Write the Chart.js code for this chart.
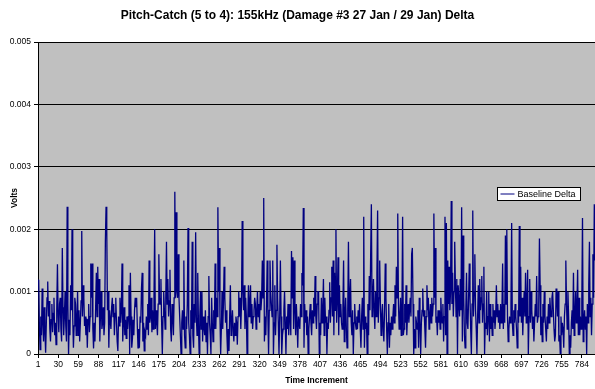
<!DOCTYPE html>
<html>
<head>
<meta charset="utf-8">
<title>Pitch-Catch Delta</title>
<script src="https://cdn.jsdelivr.net/npm/chart.js@4/dist/chart.umd.min.js"></script>
<style>
  body { margin: 0; background: #fff; }
</style>
</head>
<body>
<canvas id="chart" width="595" height="389"></canvas>
<script>
var chartTitle = 'Pitch-Catch (5 to 4): 155kHz (Damage #3 27 Jan / 29 Jan) Delta';
var seriesName = 'Baseline Delta';

// labelled time increments on the x axis
var xTickLabels = [1, 30, 59, 88, 117, 146, 175, 204, 233, 262, 291, 320, 349, 378,
                   407, 436, 465, 494, 523, 552, 581, 610, 639, 668, 697, 726, 755, 784];

// y axis ticks (volts)
var yTickValues = [0, 0.001, 0.002, 0.003, 0.004, 0.005];

// baseline delta, in millivolts (one value per time increment)
var baselineDeltaMv = [
  1.19,1.18,0.45,0.07,0.6,0.3,1.05,0.5,0.2,0.75,0.35,0.02,0.5,0.9,1.16,0.6,0.85,0.4,0.2,0.55,0.8,0.35,0.65,0.9,0.3,0.5,0.15,0.7,1.44,0.6,0.35,0.8,0.9,0.4,0.2,1.7,0.75,0.3,0.6,1.0,0.45,0.2,2.36,0.8,0.0,0.55,0.3,1.1,0.7,2.0,0.6,0.1,0.45,0.9,0.8,0.3,0.55,1.0,0.3,0.7,0.2,0.5,0.85,1.97,0.6,
  1.1,0.9,0.45,0.6,0.3,0.57,0.1,0.55,0.8,0.35,0.6,1.45,0.9,1.45,0.4,0.09,0.5,0.2,0.75,1.3,0.6,1.4,0.8,1.2,0.2,0.65,1.0,0.4,0.5,0.75,0.3,0.5,1.8,2.36,2.0,0.7,1.0,0.1,0.7,0.55,0.4,0.75,0.9,0.6,0.8,0.3,0.65,0.9,0.5,0.2,0.05,0.6,0.45,0.9,0.5,0.7,1.45,0.2,0.5,0.75,0.3,0.55,0.25,0.6,0.4,0.6,1.1,0.0,
  1.3,0.6,0.1,0.25,0.55,0.3,0.7,0.9,0.75,0.9,0.45,0.1,0.4,0.1,0.6,0.5,1.05,1.3,0.2,0.5,0.05,0.35,0.3,0.6,0.4,0.8,0.3,1.5,0.5,0.6,0.9,0.35,0.7,0.4,0.9,2.0,0.4,0.7,0.5,0.3,0.8,1.6,0.9,0.8,1.2,0.5,0.0,0.6,1.0,0.7,0.4,0.9,1.8,0.8,1.2,0.6,0.85,1.35,0.4,0.2,0.8,0.6,0.3,0.9,2.6,0.9,2.27,1.0,
  0.9,1.6,0.9,0.6,0.3,0.0,0.5,0.7,0.4,1.5,0.3,0.1,0.6,0.4,0.8,2.02,0.5,0.3,0.0,0.7,0.4,1.8,0.3,0.1,0.8,0.5,1.95,0.6,0.3,1.3,0.5,0.0,0.6,1.0,0.4,1.0,0.2,0.6,0.45,0.3,0.7,0.2,0.5,0.0,0.6,1.25,0.5,0.3,0.0,0.9,0.5,0.2,0.7,0.4,1.45,0.4,0.9,0.6,2.35,1.0,1.7,0.6,0.0,0.4,1.0,0.4,0.8,
  1.4,0.9,0.5,0.7,0.3,0.0,0.4,0.05,0.6,1.1,0.3,0.5,0.7,0.4,0.2,0.5,0.3,0.6,0.5,0.15,0.6,1.0,0.6,0.9,0.4,0.8,2.13,1.0,0.7,1.1,0.4,0.9,0.6,0.0,0.5,1.1,0.6,0.8,1.1,0.5,0.8,0.4,0.6,0.7,0.9,0.8,0.4,0.7,1.0,0.6,0.8,0.5,1.0,0.7,0.9,1.5,0.9,2.5,0.2,0.6,0.3,0.8,1.5,0.6,0.0,0.7,1.5,1.0,
  0.8,0.6,1.5,0.0,0.5,1.1,0.3,0.7,1.75,0.9,0.5,0.0,0.6,1.5,0.6,0.0,0.3,0.4,0.7,1.0,0.5,0.0,0.6,0.4,0.8,0.3,0.6,0.8,0.3,1.65,0.9,1.55,0.4,1.5,0.7,0.3,0.8,0.5,0.1,0.6,0.5,0.4,0.8,0.6,1.3,1.1,2.34,0.1,0.8,0.5,0.7,0.3,0.6,0.0,0.4,0.6,0.8,0.5,0.3,0.7,0.5,0.9,0.6,1.25,0.6,0.4,0.8,1.0,
  1.0,0.0,0.5,0.3,0.9,0.5,0.7,1.2,0.3,0.9,0.5,0.6,0.0,0.5,0.4,0.7,1.15,0.5,0.9,1.4,0.6,1.5,0.3,1.3,0.7,2.0,0.5,0.9,1.55,0.3,1.1,0.6,0.8,0.5,0.4,0.7,1.5,0.2,0.6,0.9,0.4,0.1,0.7,1.8,0.6,0.9,1.2,0.5,0.3,0.7,0.0,0.5,0.8,0.5,0.4,0.6,0.4,0.7,0.5,0.8,0.4,0.1,0.6,0.9,0.4,2.2,0.1,
  0.6,0.4,0.5,0.0,0.8,0.3,1.25,0.7,1.6,2.4,0.6,0.9,1.2,0.7,0.4,1.0,0.6,1.3,2.3,0.5,0.9,1.5,0.8,0.3,0.6,0.8,0.4,0.2,0.7,1.45,0.9,0.4,0.0,0.5,0.8,0.1,0.5,0.3,0.6,0.4,0.6,0.8,0.5,1.1,0.6,1.4,0.9,2.25,0.8,0.4,0.6,0.9,0.3,0.7,2.2,0.3,0.4,0.8,0.5,1.1,0.3,0.6,0.8,0.5,0.7,0.9,0.6,1.6,
  1.7,0.8,0.0,0.4,0.1,0.6,0.5,0.4,0.7,0.1,0.9,0.5,0.0,0.5,0.7,1.05,0.6,0.7,0.4,0.1,0.6,1.1,0.7,0.9,0.4,0.6,0.8,0.5,0.9,0.6,0.8,2.25,0.9,1.7,0.5,0.6,0.3,0.7,0.5,0.7,0.4,0.9,0.6,0.5,0.8,0.2,0.6,2.2,0.3,2.1,0.0,1.5,0.8,1.4,0.7,1.0,2.45,0.8,1.3,0.6,1.0,1.8,1.1,0.6,1.2,0.0,1.1,
  1.1,0.6,1.2,0.7,2.35,0.2,1.9,0.9,0.3,0.1,0.7,1.3,0.5,0.4,0.9,1.45,0.9,0.4,0.0,0.8,2.3,0.6,1.0,1.6,0.7,0.4,0.0,0.6,1.1,0.5,1.2,0.7,0.9,1.25,0.5,0.8,1.4,0.0,0.5,0.4,1.0,0.3,0.6,1.0,0.2,0.8,0.4,0.6,0.3,0.8,0.5,0.7,0.4,0.6,1.1,0.6,0.8,0.5,0.7,0.4,0.8,0.5,0.7,1.45,0.4,0.8,0.5,1.9,
  0.8,2.0,0.6,0.2,0.4,0.6,0.5,0.8,2.1,0.5,0.3,0.7,0.5,0.8,0.6,0.4,0.1,0.7,0.5,2.05,0.6,1.4,0.5,0.9,0.3,0.7,1.0,0.6,1.3,0.5,0.8,1.35,0.0,0.6,1.2,0.5,1.0,0.7,0.4,0.6,0.2,0.5,0.8,0.6,1.25,0.5,0.6,0.8,1.85,1.1,0.3,0.6,0.2,0.8,0.5,1.0,0.6,0.4,0.2,0.6,0.4,0.8,0.5,0.9,0.7,0.6,0.9,1.0,
  0.7,0.4,0.2,0.3,1.05,0.9,0.6,1.0,0.2,0.3,0.0,0.6,0.3,0.5,0.4,0.1,0.6,0.8,1.5,0.8,0.4,1.0,0.6,0.0,0.3,0.1,0.5,0.7,0.4,1.3,0.3,0.6,1.0,0.5,0.8,1.35,0.3,0.9,0.3,0.6,0.4,0.8,2.18,0.2,0.5,0.7,0.4,0.6,0.0,0.8,0.5,1.1,1.8,0.6,0.9,0.3,0.8,1.6,0.9,2.4,1.5
];

Chart.defaults.font.family = '"Liberation Sans", Arial, sans-serif';
Chart.defaults.color = '#000';

// points: x = time increment, y = volts
var points = baselineDeltaMv.map(function (mv, i) {
    return { x: i + 1, y: mv / 1000 };
});

// grey plot area like the Excel default
var plotBackground = {
    id: 'plotBackground',
    beforeDraw: function (chart) {
        var a = chart.chartArea;
        var ctx = chart.ctx;
        ctx.save();
        ctx.fillStyle = '#c0c0c0';
        ctx.fillRect(a.left, a.top, a.right - a.left, a.bottom - a.top);
        ctx.restore();
    }
};

// Excel style legend box sitting inside the plot, right side
var boxLegend = {
    id: 'boxLegend',
    afterDraw: function (chart) {
        var ctx = chart.ctx;
        var ds = chart.data.datasets[0];
        var x = 497.5, y = 187.5, w = 83, h = 13;
        ctx.save();
        ctx.fillStyle = '#fff';
        ctx.fillRect(x, y, w, h);
        ctx.strokeStyle = '#000';
        ctx.lineWidth = 1;
        ctx.strokeRect(x, y, w, h);
        ctx.strokeStyle = ds.borderColor;
        ctx.beginPath();
        ctx.moveTo(x + 3, y + 6.5);
        ctx.lineTo(x + 17, y + 6.5);
        ctx.stroke();
        ctx.fillStyle = '#000';
        ctx.font = '9px "Liberation Sans", Arial, sans-serif';
        ctx.textBaseline = 'middle';
        ctx.fillText(ds.label, x + 20, y + 7);
        ctx.restore();
    }
};

new Chart(document.getElementById('chart'), {
    type: 'line',
    data: {
        datasets: [{
            label: seriesName,
            data: points,
            borderColor: '#000080',
            borderWidth: 1.3,
            pointRadius: 0,
            tension: 0,
            fill: false
        }]
    },
    options: {
        responsive: false,
        animation: false,
        layout: { padding: 0 },
        plugins: {
            legend: { display: false },
            tooltip: { enabled: false },
            title: {
                display: true,
                text: chartTitle,
                color: '#000',
                font: { size: 12, weight: 'bold' },
                padding: { top: 8, bottom: 19.6 }
            }
        },
        scales: {
            x: {
                type: 'linear',
                min: 1,
                max: baselineDeltaMv.length,
                afterBuildTicks: function (scale) {
                    scale.ticks = xTickLabels.map(function (v) { return { value: v }; });
                },
                afterFit: function (scale) { scale.height = 35; },
                grid: { drawOnChartArea: false, color: '#000', tickLength: 4 },
                border: { color: '#000' },
                ticks: {
                    autoSkip: false,
                    maxRotation: 0,
                    padding: 2,
                    font: { size: 8.5 },
                    callback: function (v) { return String(v); }
                },
                title: {
                    display: true,
                    text: 'Time Increment',
                    font: { size: 8.5, weight: 'bold' },
                    padding: 3
                }
            },
            y: {
                min: 0,
                max: 0.005,
                afterBuildTicks: function (scale) {
                    scale.ticks = yTickValues.map(function (v) { return { value: v }; });
                },
                afterFit: function (scale) { scale.width = 38; },
                grid: { color: '#000', tickLength: 4 },
                border: { color: '#000' },
                ticks: {
                    padding: 3,
                    font: { size: 8.5 },
                    callback: function (v) { return v === 0 ? '0' : v.toFixed(3); }
                },
                title: {
                    display: true,
                    text: 'Volts',
                    font: { size: 8.5, weight: 'bold' },
                    padding: 10
                }
            }
        }
    },
    plugins: [plotBackground, boxLegend]
});
</script>
</body>
</html>
